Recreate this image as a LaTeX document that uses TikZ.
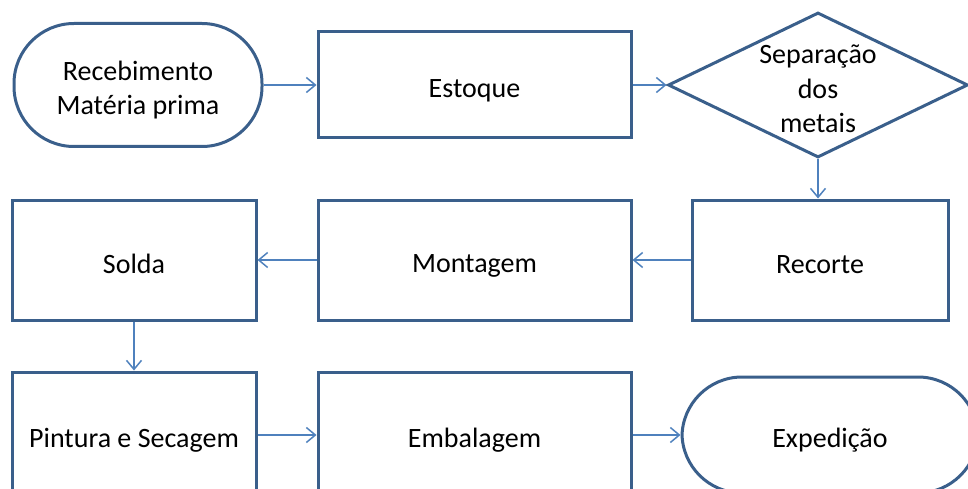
\documentclass[tikz,border=0pt]{standalone}
\usepackage{fontspec}
\setmainfont{Carlito}
\usetikzlibrary{shapes.geometric,arrows.meta}
\definecolor{edgeblue}{HTML}{3A5F8B}
\definecolor{arrowblue}{HTML}{4F81BD}
\newcommand{\sst}{\rule[-4pt]{0pt}{34pt}}
\begin{document}
\begin{tikzpicture}[x=1pt,y=-1pt,
  box/.style={draw=edgeblue,line width=3pt,rectangle,inner sep=0pt,align=center,font=\fontsize{28}{34}\selectfont},
  stadium/.style={box,rounded corners=60pt},
  diam/.style={draw=edgeblue,line width=3pt,diamond,inner sep=0pt,minimum width=300pt,minimum height=145pt},
  txt/.style={inner sep=0pt,align=center,font=\fontsize{28}{34}\selectfont},
  flow/.style={draw=arrowblue,line width=1.5pt,-{Straight Barb[length=9pt,width=15pt,line width=1.5pt]}}]
\useasboundingbox (0,0) rectangle (968,489);
\node[stadium,minimum width=248pt,minimum height=123pt] (rec) at (138,85) {\sst Recebimento\\\sst Matéria prima};
\node[box,minimum width=313pt,minimum height=106pt] (est) at (474.5,85) {\sst Estoque};
\node[diam] (sep) at (818,85) {};
\node[txt] at (sep) {\sst Separação\\\sst dos\\\sst metais};
\node[box,minimum width=256pt,minimum height=120pt] (rc) at (820,260) {\sst Recorte};
\node[box,minimum width=313pt,minimum height=120pt] (mon) at (474.5,260) {\sst Montagem};
\node[box,minimum width=244pt,minimum height=120pt] (sol) at (134,260) {\sst Solda};
\node[box,minimum width=244pt,minimum height=126pt] (pin) at (134,435) {\sst Pintura e Secagem};
\node[box,minimum width=313pt,minimum height=126pt] (emb) at (474.5,435) {\sst Embalagem};
\node[stadium,minimum width=296pt,minimum height=116pt] (exp) at (830,435) {\sst Expedição};
\draw[flow] (rec.east) -- (est.west);
\draw[flow] (est.east) -- (sep.west);
\draw[flow] (sep.south) -- (sep.south |- rc.north);
\draw[flow] (rc.west) -- (mon.east);
\draw[flow] (mon.west) -- (sol.east);
\draw[flow] (sol.south) -- (pin.north);
\draw[flow] (pin.east) -- (emb.west);
\draw[flow] (emb.east) -- (exp.west);
\end{tikzpicture}
\end{document}
